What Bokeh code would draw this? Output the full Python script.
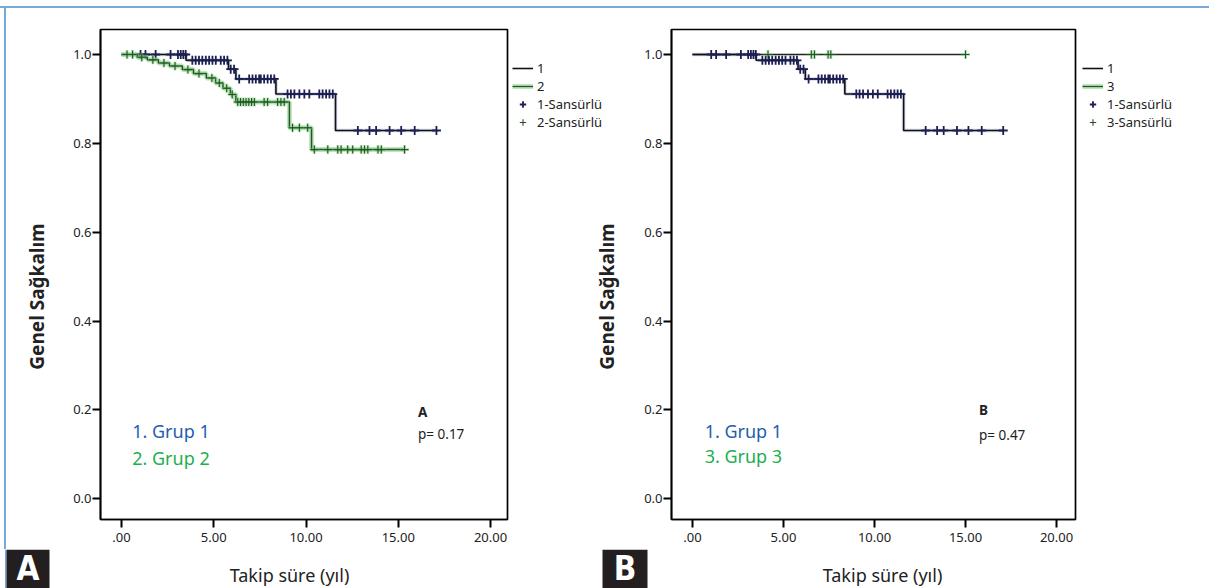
import math
from bokeh.plotting import figure
from bokeh.models import (FixedTicker, Range1d, Label, BoxAnnotation, Legend,
                          LegendItem, NumeralTickFormatter, Div)
from bokeh.layouts import row, column
from bokeh.embed import file_html
from bokeh.resources import INLINE

# ---------------- data ----------------
x_ticks = [0, 5, 10, 15, 20]
x_tick_labels = [".00", "5.00", "10.00", "15.00", "20.00"]
y_ticks = [0.0, 0.2, 0.4, 0.6, 0.8, 1.0]

# Group 1 Kaplan-Meier steps (event times, survival after event), last = end of follow-up
g1_times = [0.0, 3.5, 5.8, 6.2, 8.37, 11.6, 17.07]
g1_surv = [1.0, 0.987, 0.967, 0.945, 0.911, 0.829, 0.829]
g1_cens = [1.03, 1.30, 1.85, 2.66, 3.06, 3.21, 3.35, 3.48,
           3.84, 4.02, 4.20, 4.38, 4.57, 4.75, 4.93, 5.11, 5.38, 5.56, 5.74,
           5.92, 6.10,
           6.38, 6.92, 7.10, 7.28, 7.46, 7.55, 7.73, 7.92, 8.10, 8.28,
           9.00, 9.18, 9.37, 9.64, 9.91, 10.18, 10.72, 10.90, 11.09, 11.27, 11.45,
           12.81, 13.44, 13.80, 14.53, 15.16, 15.89, 17.07]

# Group 2
g2_times = [0.0, 0.85, 1.4, 2.0, 2.6, 3.3, 3.9, 4.6, 5.1, 5.5, 5.9, 6.2, 9.1, 10.3, 15.34]
g2_surv = [1.0, 0.994, 0.988, 0.981, 0.974, 0.966, 0.957, 0.947, 0.936, 0.924, 0.910,
           0.893, 0.835, 0.786, 0.786]
g2_cens = [0.3, 0.6, 1.1, 1.7, 2.3, 2.9, 3.6, 4.2, 4.9, 5.3, 5.7, 6.0,
           6.3, 6.45, 6.6, 6.75, 6.9, 7.05, 7.2, 7.73, 7.92, 8.46, 8.64, 8.82,
           9.27, 9.64, 10.09,
           10.45, 11.18, 11.72, 11.9, 12.26, 12.53, 12.99, 13.17, 13.35, 13.9, 14.08, 15.34]

# Group 3
g3_times = [0.0, 15.0]
g3_surv = [1.0, 1.0]
g3_cens = [4.15, 6.53, 6.7, 7.45, 7.6, 15.0]


def surv_at(times, surv, t):
    s = surv[0]
    for ti, si in zip(times, surv):
        if ti <= t:
            s = si
    return s


FONT = "Noto Sans"
TXT = "#222222"
BLUE_FRAME = "#74A9D8"
DARK = "#231f20"
PH = 541  # height of the chart row (page y 8 .. 549)

G1_LINE = dict(line_width=1.6, color="#111111")
G1_GLOW = dict(line_width=3.5, color="#3a4fa0", alpha=0.22)
G1_MARK = dict(marker="cross", size=9, line_width=1.8, color="#1c1f50")
GR_GLOW = dict(line_width=5, color="#7fd67f", alpha=0.55)
GR_MARK_GLOW = dict(marker="cross", size=9, line_width=3, color="#7fd67f", alpha=0.5)
GR_MARK = dict(marker="cross", size=8, line_width=1.1, color="#2b4f2b")


def make_fig(width, bl, br, xr):
    p = figure(width=width, height=PH, x_range=Range1d(*xr),
               y_range=Range1d(-0.0466, 1.0563), output_backend="svg",
               toolbar_location=None, min_border_left=bl, min_border_right=br,
               min_border_top=21, min_border_bottom=30,
               background_fill_color="white", border_fill_color="white")
    p.grid.visible = False
    p.outline_line_color = "black"
    p.outline_line_width = 1.7
    p.xaxis.ticker = FixedTicker(ticks=x_ticks)
    p.xaxis.major_label_overrides = {t: l for t, l in zip(x_ticks, x_tick_labels)}
    p.yaxis.ticker = FixedTicker(ticks=y_ticks)
    p.yaxis.formatter = NumeralTickFormatter(format="0.0")
    for ax in (p.xaxis[0], p.yaxis[0]):
        ax.axis_line_color = "black"
        ax.axis_line_width = 1.7
        ax.major_tick_line_width = 2
        ax.major_tick_out = 8
        ax.major_tick_in = 0
        ax.minor_tick_line_color = None
        ax.major_label_text_font = FONT
        ax.major_label_text_font_size = "13px"
        ax.major_label_text_color = TXT
    p.xaxis.major_label_standoff = 5
    p.yaxis.major_label_standoff = 1
    return p


def deco(width, height, xr, yr, bt=0, bb=0):
    # decoration layer whose data space is page pixels (y downward)
    return figure(width=width, height=height, x_range=Range1d(*xr), y_range=Range1d(*yr),
                  x_axis_type=None, y_axis_type=None, output_backend="svg",
                  toolbar_location=None, min_border_left=0, min_border_right=0,
                  min_border_top=bt, min_border_bottom=bb, outline_line_color=None,
                  background_fill_color="white", border_fill_color="white")


def box(d, l, r, t, b, c):
    d.add_layout(BoxAnnotation(left=l, right=r, top=t, bottom=b, fill_color=c,
                               fill_alpha=1, line_color=None))


def draw_group1(p):
    p.step(g1_times, g1_surv, mode="after", **G1_GLOW)
    p.step(g1_times, g1_surv, mode="after", **G1_LINE)
    ys = [surv_at(g1_times, g1_surv, t) for t in g1_cens]
    p.scatter(g1_cens, ys, **G1_MARK)


def draw_green(p, times, surv, cens, glow_line=True, line_color="#2b4f2b"):
    if glow_line:
        p.step(times, surv, mode="after", **GR_GLOW)
    p.step(times, surv, mode="after", line_width=1.5, color=line_color)
    ys = [surv_at(times, surv, t) for t in cens]
    p.scatter(cens, ys, **GR_MARK_GLOW)
    p.scatter(cens, ys, **GR_MARK)


def add_legend(d, other, vx):
    # legend drawn in a decoration figure; sample renderers sit far outside its view
    ox, oy = [-1000, -999], [-1000, -1000]
    s1 = d.step(ox, oy, **G1_LINE)
    s2a = d.step(ox, oy, **GR_GLOW)
    s2b = d.step(ox, oy, line_width=1.3, color="#2b4f2b")
    s3 = d.scatter(ox[:1], oy[:1], **G1_MARK)
    s4 = d.scatter(ox[:1], oy[:1], **GR_MARK)
    items = [LegendItem(label="1", renderers=[s1]),
             LegendItem(label=other, renderers=[s2a, s2b]),
             LegendItem(label="1-Sansürlü", renderers=[s3]),
             LegendItem(label=other + "-Sansürlü", renderers=[s4])]
    leg = Legend(items=items, location=(vx, 388.5), padding=0, margin=0, spacing=0,
                 label_height=16, glyph_height=16, glyph_width=21, label_standoff=4,
                 border_line_alpha=0, background_fill_alpha=0,
                 label_text_font=FONT, label_text_font_size="13px",
                 label_text_color=TXT)
    d.add_layout(leg)


def add_texts(p, g_labels, letter, ptext, x_left, x_right, ys):
    p.add_layout(Label(x=x_left, y=ys[0], text=g_labels[0], text_font=FONT,
                       text_font_size="18px", text_color="#1F5FAD",
                       text_baseline="bottom"))
    p.add_layout(Label(x=x_left, y=ys[1], text=g_labels[1], text_font=FONT,
                       text_font_size="18px", text_color="#1DAF4E",
                       text_baseline="bottom"))
    p.add_layout(Label(x=x_right, y=ys[2], text=letter, text_font=FONT,
                       text_font_size="13.5px", text_font_style="bold",
                       text_color=TXT, text_baseline="bottom"))
    p.add_layout(Label(x=x_right, y=ys[3], text=ptext, text_font=FONT,
                       text_font_size="13.5px", text_color=TXT,
                       text_baseline="bottom"))


def y_title(d, x, y):
    d.add_layout(Label(x=x, y=y, text="Genel Sağkalım", text_font=FONT,
                       text_font_size="19px", text_font_style="bold", text_color=TXT,
                       text_align="center", text_baseline="middle",
                       angle=math.pi / 2))


# ---------------- panel A ----------------
p1 = make_fig(459, 50, 2, (-1.138, 20.92))
draw_group1(p1)
draw_green(p1, g2_times, g2_surv, g2_cens)
add_texts(p1, ["1. Grup 1", "2. Grup 2"], "A", "p= 0.17", 0.58, 16.07,
          [0.1254, 0.0653, 0.1762, 0.1261])

# ---------------- panel B ----------------
p2 = make_fig(436, 29, 2, (-1.151, 21.04))
draw_green(p2, g3_times, g3_surv, g3_cens, glow_line=False, line_color="#1e261e")
draw_group1(p2)
add_texts(p2, ["1. Grup 1", "3. Grup 3"], "B", "p= 0.47", 0.67, 15.74,
          [0.1254, 0.0682, 0.1785, 0.1238])

# ---------------- page frame, legends, axis titles, panel letters ----------------
top = Div(text="", width=1209, height=8, margin=0,
          styles={"background": "linear-gradient(to bottom, #ffffff 0px, #ffffff 6px, "
                                "#74A9D8 6px, #74A9D8 7.6px, #ffffff 7.6px)"})
edge = Div(text="", width=6, height=PH, margin=0,
           styles={"background": "linear-gradient(to right, #ffffff 0px, #ffffff 4.5px, "
                                 "#74A9D8 4.5px, #74A9D8 6px)"})

left = deco(44, PH, (6, 50), (519, 29), bt=21, bb=30)
y_title(left, 36, 296)

mid = deco(132, PH, (509, 641), (519, 29), bt=21, bb=30)
add_legend(mid, "2", 3)
y_title(mid, 606, 296)

right = deco(132, PH, (1077, 1209), (519, 29), bt=21, bb=30)
add_legend(right, "3", 5)

bottom = deco(1209, 39, (0, 1209), (588, 549))
box(bottom, 4.5, 6, 549, 588, BLUE_FRAME)
box(bottom, 6, 49, 549, 588, DARK)
box(bottom, 602, 647, 549, 588, DARK)
for (x, txt) in [(27.5, "A"), (624.5, "B")]:
    bottom.add_layout(Label(x=x, y=587.6, text=txt, text_font="DejaVu Sans Condensed",
                            text_font_size="33px", text_font_style="bold",
                            text_color="white", text_align="center",
                            text_baseline="bottom"))
for x in [289, 882]:
    bottom.add_layout(Label(x=x, y=586, text="Takip süre (yıl)", text_font=FONT,
                            text_font_size="18px", text_color=TXT, text_align="center",
                            text_baseline="bottom"))

layout = column(top, row(edge, left, p1, mid, p2, right), bottom)
open("out.html", "w").write(file_html(layout, INLINE))
